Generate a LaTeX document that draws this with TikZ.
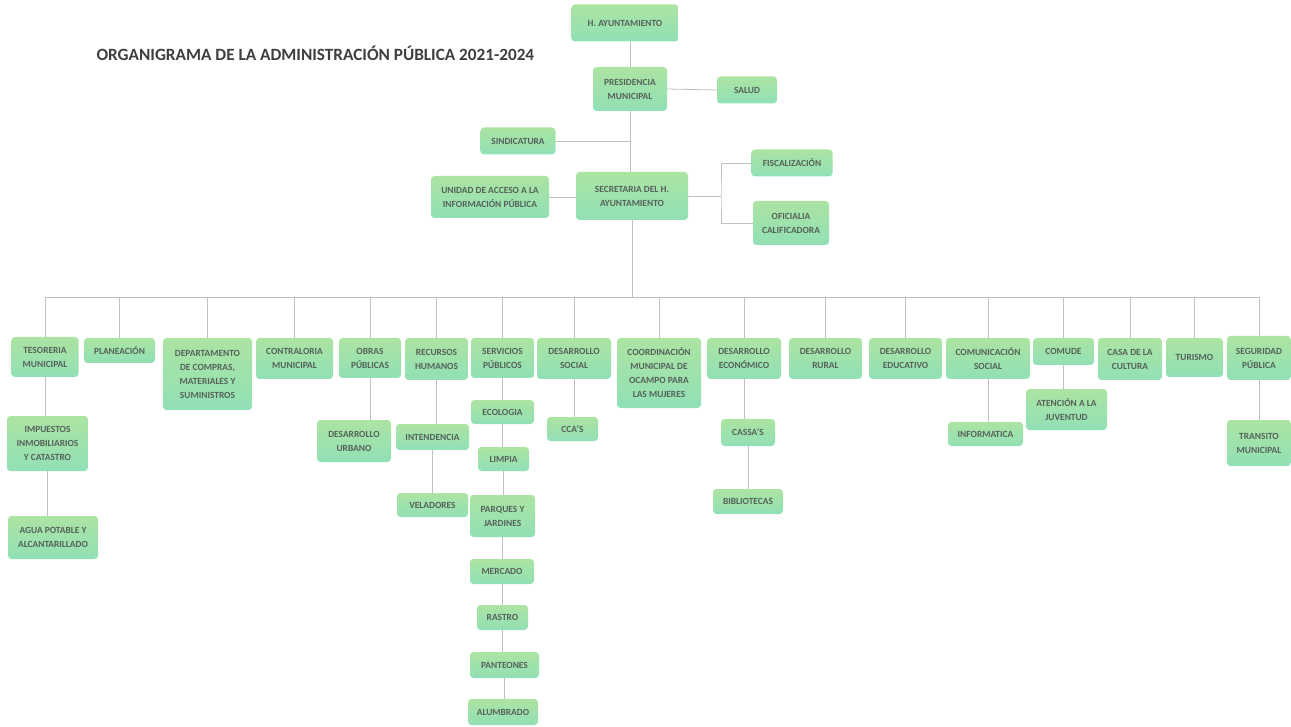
\documentclass[tikz,border=0pt]{standalone}
\usepackage{fontspec}
\setmainfont{Carlito}
\definecolor{boxtop}{RGB}{172,228,162}
\definecolor{boxbot}{RGB}{145,224,182}
\definecolor{boxtext}{RGB}{85,98,90}
\definecolor{linkgray}{RGB}{190,193,193}
\definecolor{titlegray}{RGB}{62,62,62}
\begin{document}
\begin{tikzpicture}[
    x=1pt, y=-1pt,
    box/.style 2 args={rounded corners=3.5pt, top color=boxtop, bottom color=boxbot, draw=none,
        text=boxtext, font=\fontsize{9.4}{14}\selectfont\bfseries, align=center, inner sep=1pt,
        minimum width=#1, minimum height=#2},
    link/.style={draw=linkgray, line width=0.8pt},
]
  \useasboundingbox (0,0) rectangle (1291,727);

  \node [anchor=west, text=titlegray, font=\fontsize{17.2}{20}\selectfont\bfseries]
        (title) at (93,53) {ORGANIGRAMA DE LA ADMINISTRACIÓN PÚBLICA 2021-2024};

  % cabeza
  \node [box={107}{37}]  (ayto)    at (625,23)    {H. AYUNTAMIENTO};
  \node [box={74}{44}]   (pres)    at (630,89)    {PRESIDENCIA\\MUNICIPAL};
  \node [box={60}{27}]   (salud)   at (747,90)    {SALUD};
  \node [box={75}{27}]   (sind)    at (518,141)   {SINDICATURA};
  \node [box={112}{48}]  (secre)   at (632,196)   {SECRETARIA DEL H.\\AYUNTAMIENTO};
  \node [box={118}{42}]  (unidad)  at (490,197)   {UNIDAD DE ACCESO A LA\\INFORMACIÓN PÚBLICA};
  \node [box={81}{27}]   (fisc)    at (792,163)   {FISCALIZACIÓN};
  \node [box={76}{44}]   (ofic)    at (791,223)   {OFICIALIA\\CALIFICADORA};

  \draw [link] (ayto.south -| pres.north) -- (pres.north);
  \draw [link] (pres.south) -- (pres.south |- secre.north);
  \draw [link] (pres.east) -- (salud.west);
  \draw [link] (sind.east) -- (sind.east -| pres.south);
  \draw [link] (unidad.east) -- (unidad.east -| secre.west);
  \coordinate (split) at (721,196);
  \draw [link] (secre.east) -- (split);
  \draw [link] (fisc.west) -| (split) |- (ofic.west);

  % direcciones
  \node [box={67}{40}]   (tes)     at (45,357)    {TESORERIA\\MUNICIPAL};
  \node [box={71}{25}]   (plan)    at (119.5,350.5) {PLANEACIÓN};
  \node [box={89}{72}]   (compras) at (207.5,374) {DEPARTAMENTO\\DE COMPRAS,\\MATERIALES Y\\SUMINISTROS};
  \node [box={77}{41}]   (contra)  at (294.5,358.5) {CONTRALORIA\\MUNICIPAL};
  \node [box={62}{40}]   (obras)   at (370,358)   {OBRAS\\PÚBLICAS};
  \node [box={63}{42}]   (rh)      at (436.5,359) {RECURSOS\\HUMANOS};
  \node [box={63}{40}]   (serv)    at (502.5,358) {SERVICIOS\\PÚBLICOS};
  \node [box={74}{41}]   (dsoc)    at (574,358.5) {DESARROLLO\\SOCIAL};
  \node [box={84}{70}]   (mujer)   at (659,373)   {COORDINACIÓN\\MUNICIPAL DE\\OCAMPO PARA\\LAS MUJERES};
  \node [box={74}{41}]   (decon)   at (744,358.5) {DESARROLLO\\ECONÓMICO};
  \node [box={73}{41}]   (drural)  at (825.5,358.5) {DESARROLLO\\RURAL};
  \node [box={73}{41}]   (deduc)   at (905.5,358.5) {DESARROLLO\\EDUCATIVO};
  \node [box={84}{41}]   (comsoc)  at (988,358.5) {COMUNICACIÓN\\SOCIAL};
  \node [box={61}{27}]   (comude)  at (1063.5,351.5) {COMUDE};
  \node [box={64}{42}]   (casa)    at (1130,359)  {CASA DE LA\\CULTURA};
  \node [box={57}{39}]   (tur)     at (1194.5,357.5) {TURISMO};
  \node [box={64}{44}]   (seg)     at (1259,358)  {SEGURIDAD\\PÚBLICA};

  \coordinate (bus) at (632,297);
  \draw [link] (secre.south) -- (bus);
  \draw [link] (bus -| tes.north) -- (bus -| seg.north);
  \foreach \n in {tes,plan,compras,contra,obras,rh,serv,dsoc,mujer,decon,drural,deduc,comsoc,comude,casa,tur,seg}
    \draw [link] (bus -| \n.north) -- (\n.north);

  % areas
  \node [box={81}{55}]   (imp)     at (47.5,443.5) {IMPUESTOS\\INMOBILIARIOS\\Y CATASTRO};
  \node [box={90}{43}]   (agua)    at (53,537.5)  {AGUA POTABLE Y\\ALCANTARILLADO};
  \node [box={74}{42}]   (desurb)  at (354,441)   {DESARROLLO\\URBANO};
  \node [box={73}{26}]   (inten)   at (432.5,437) {INTENDENCIA};
  \node [box={71}{24}]   (velad)   at (432.5,505) {VELADORES};
  \node [box={63}{24}]   (eco)     at (502.5,412) {ECOLOGIA};
  \node [box={51}{24}]   (limpia)  at (503.5,459) {LIMPIA};
  \node [box={65}{42}]   (parques) at (502.5,516) {PARQUES Y\\JARDINES};
  \node [box={64}{25}]   (merc)    at (502,571.5) {MERCADO};
  \node [box={51}{25}]   (rastro)  at (502.5,617.5) {RASTRO};
  \node [box={69}{26}]   (pant)    at (504.5,665) {PANTEONES};
  \node [box={70}{26}]   (alum)    at (503,712)   {ALUMBRADO};
  \node [box={51}{24}]   (ccas)    at (572.5,429) {CCA'S};
  \node [box={54}{27}]   (cassa)   at (748,432.5) {CASSA'S};
  \node [box={70}{25}]   (biblio)  at (748,501.5) {BIBLIOTECAS};
  \node [box={75}{24}]   (inform)  at (985.5,434) {INFORMATICA};
  \node [box={81}{41}]   (atenc)   at (1066.5,409.5) {ATENCIÓN A LA\\JUVENTUD};
  \node [box={64}{46}]   (trans)   at (1259,443)  {TRANSITO\\MUNICIPAL};

  \foreach \a/\b in {tes/imp, imp/agua, obras/desurb, rh/inten, inten/velad,
      serv/eco, eco/limpia, limpia/parques, parques/merc, merc/rastro, rastro/pant, pant/alum,
      dsoc/ccas, decon/cassa, cassa/biblio, comsoc/inform, comude/atenc, seg/trans}
    \draw [link] (\a.south) -- (\a.south |- \b.north);
\end{tikzpicture}
\end{document}
